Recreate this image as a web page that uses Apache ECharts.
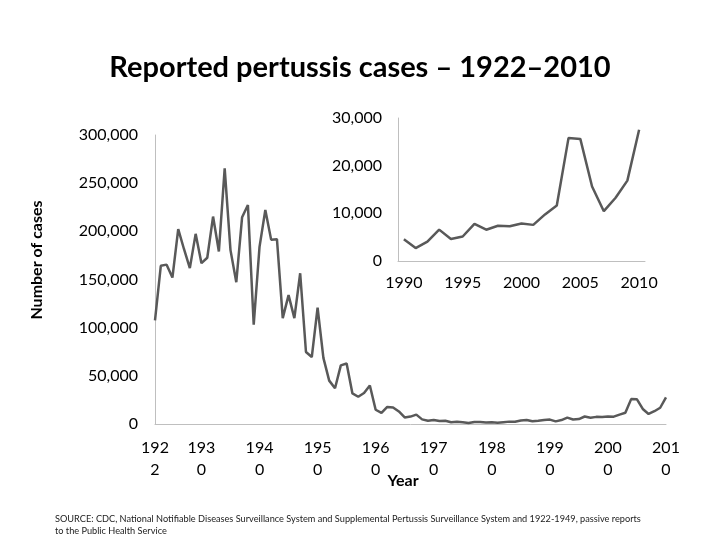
<!DOCTYPE html>
<html>
<head>
<meta charset="utf-8">
<script src="https://cdn.jsdelivr.net/npm/echarts@6/dist/echarts.min.js"></script>
<style>
  html, body { margin: 0; padding: 0; background: #fff; }
  #main { width: 720px; height: 540px; }
</style>
</head>
<body>
<div id="main"></div>
<script>
// years on the main axis, 1922..2010
const years = [];
for (let y = 1922; y <= 2010; y++) years.push(String(y));

// reported cases per year
const cases = [
  107473, 164191, 165418, 152003, 202210, 181411, 161799, 197371,
  166914, 172559, 215343, 179135, 265269, 180518, 147237, 214652, 227319, 103188,
  183866, 222202, 191383, 191890, 109873, 133792, 109860, 156517, 74715, 69479,
  120718, 68687, 45030, 37129, 60886, 62786, 31732, 28295, 32148, 40005,
  14809, 11468, 17749, 17135, 13005, 6799, 7717, 9718, 4810, 3285,
  4249, 3036, 3287, 1759, 2402, 1738, 1010, 2177, 2063, 1623,
  1730, 1248, 1895, 2463, 2276, 3589, 4195, 2823, 3450, 4157,
  4570, 2719, 4083, 6586, 4617, 5137, 7796, 6564, 7405, 7298,
  7867, 7580, 9771, 11647, 25827, 25616, 15632, 10454, 13278, 16858,
  27550
];

// inset: 1990..2010
const insetYears = [
  '1990', '1991', '1992', '1993', '1994', '1995', '1996', '1997', '1998', '1999',
  '2000', '2001', '2002', '2003', '2004', '2005', '2006', '2007', '2008', '2009', '2010'
];
const insetCases = [
  4570, 2719, 4083, 6586, 4617, 5137, 7796, 6564, 7405, 7298,
  7867, 7580, 9771, 11647, 25827, 25616, 15632, 10454, 13278, 16858, 27550
];

const font = 'Lato, "Open Sans", sans-serif';
const axisGray = '#bfbfbf';
const lineGray = '#595959';

const chart = echarts.init(document.getElementById('main'));
chart.setOption({
  backgroundColor: '#fff',
  animation: false,
  textStyle: { fontFamily: font },
  title: [
    {
      text: 'Reported pertussis cases \u2013 1922\u20132010',
      left: 'center',
      top: 48,
      textStyle: { fontSize: 29, fontWeight: 'bold', color: '#000', fontFamily: font }
    },
    {
      text: 'SOURCE: CDC, National Notifiable Diseases Surveillance System and Supplemental Pertussis Surveillance System and 1922-1949, passive reports\nto the Public Health Service',
      left: 55,
      top: 513,
      padding: 0,
      textStyle: { fontSize: 9.2, fontWeight: 'normal', color: '#222', lineHeight: 12, fontFamily: font }
    }
  ],
  // axis titles
  graphic: [
    {
      type: 'text',
      x: 37,
      y: 260,
      rotation: Math.PI / 2,
      style: {
        text: 'Number of cases',
        align: 'center',
        verticalAlign: 'middle',
        fill: '#000',
        font: 'bold 16px ' + font
      }
    },
    {
      type: 'text',
      x: 403,
      y: 481,
      style: {
        text: 'Year',
        align: 'center',
        verticalAlign: 'middle',
        fill: '#000',
        font: 'bold 16px ' + font
      }
    }
  ],
  grid: [
    { left: 155, top: 135, width: 511, height: 289 },
    { left: 398, top: 118, width: 247, height: 143 }
  ],
  xAxis: [
    {
      gridIndex: 0,
      type: 'category',
      data: years,
      boundaryGap: false,
      axisLine: { lineStyle: { color: axisGray, width: 1 } },
      axisTick: { show: false },
      axisLabel: {
        interval: (i, v) => i === 0 || Number(v) % 10 === 0,
        formatter: v => v.slice(0, 3) + '\n' + v.slice(3),
        fontSize: 16,
        lineHeight: 22,
        color: '#000',
        margin: 13
      },
      splitLine: { show: false }
    },
    {
      gridIndex: 1,
      type: 'category',
      data: insetYears,
      boundaryGap: true,
      axisLine: { lineStyle: { color: axisGray, width: 1 } },
      axisTick: { show: false },
      axisLabel: { interval: 4, fontSize: 16, color: '#000', margin: 14 },
      splitLine: { show: false }
    }
  ],
  yAxis: [
    {
      gridIndex: 0,
      type: 'value',
      min: 0,
      max: 300000,
      interval: 50000,
      axisLine: { show: true, lineStyle: { color: axisGray, width: 1 } },
      axisTick: { show: false },
      axisLabel: {
        fontSize: 16,
        color: '#000',
        margin: 17,
        formatter: v => v.toLocaleString('en-US')
      },
      splitLine: { show: false }
    },
    {
      gridIndex: 1,
      type: 'value',
      min: 0,
      max: 30000,
      interval: 10000,
      axisLine: { show: true, lineStyle: { color: axisGray, width: 1 } },
      axisTick: { show: false },
      axisLabel: {
        fontSize: 16,
        color: '#000',
        margin: 16,
        formatter: v => v.toLocaleString('en-US')
      },
      splitLine: { show: false }
    }
  ],
  series: [
    {
      type: 'line',
      xAxisIndex: 0,
      yAxisIndex: 0,
      data: cases,
      showSymbol: false,
      lineStyle: { color: lineGray, width: 2.5 }
    },
    {
      type: 'line',
      xAxisIndex: 1,
      yAxisIndex: 1,
      data: insetCases,
      showSymbol: false,
      lineStyle: { color: lineGray, width: 2.5 }
    }
  ]
});
</script>
</body>
</html>
